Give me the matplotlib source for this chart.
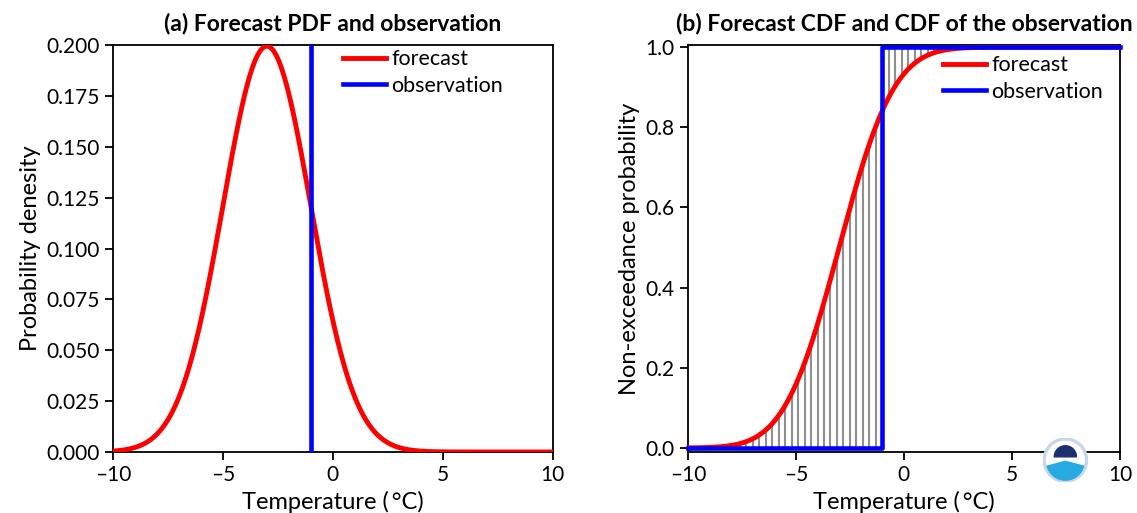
import math
import numpy as np
import matplotlib
matplotlib.use('Agg')
import matplotlib.pyplot as plt
from matplotlib.patches import Circle, Wedge

plt.rcParams['font.family'] = ['Lato', 'DejaVu Sans']

fc_mean = -3.0
fc_sd = 2.0
obs_value = -1.0
x_limits = [-10, 10]
pdf_ticks = [0.000, 0.025, 0.050, 0.075, 0.100, 0.125, 0.150, 0.175, 0.200]
cdf_ticks = [0.0, 0.2, 0.4, 0.6, 0.8, 1.0]
x_ticks = [-10, -5, 0, 5, 10]
hatch_step = 0.3

xs = np.linspace(x_limits[0], x_limits[1], 801)
pdf = np.exp(-0.5 * ((xs - fc_mean) / fc_sd) ** 2) / (fc_sd * math.sqrt(2 * math.pi))
erf = np.vectorize(math.erf)


def fc_cdf(x):
    return 0.5 * (1 + erf((x - fc_mean) / (fc_sd * math.sqrt(2))))


def obs_cdf(x):
    return np.where(x < obs_value, 0.0, 1.0)


fig = plt.figure(figsize=(11.37, 5.13), dpi=100)
ax1 = fig.add_axes([0.0994, 0.119, 0.3866, 0.793])
ax2 = fig.add_axes([0.605, 0.119, 0.380, 0.793])

# (a) PDF
ax1.plot(xs, pdf, color='red', lw=3.5, label='forecast', zorder=3)
ax1.axvline(obs_value, color='blue', lw=3.3, label='observation', zorder=3)
ax1.set_xlim(x_limits)
ax1.set_ylim(0, 0.2)
ax1.set_yticks(pdf_ticks)
ax1.set_yticklabels(['%.3f' % v for v in pdf_ticks])
ax1.set_ylabel('Probability denesity', fontsize=17)
ax1.set_title('(a) Forecast PDF and observation', fontsize=16.5, fontweight='bold', pad=11)
ax1.legend(loc='upper left', bbox_to_anchor=(0.523, 0.99), frameon=False, fontsize=15.5,
           handlelength=2.0, handletextpad=0.25, borderpad=0, borderaxespad=0, labelspacing=0.3)

# (b) CDF
hx = np.arange(x_limits[0] + 0.6, x_limits[1], hatch_step)
ax2.vlines(hx, np.minimum(fc_cdf(hx), obs_cdf(hx)), np.maximum(fc_cdf(hx), obs_cdf(hx)),
           color='#8f8f8f', lw=1.5, zorder=2)
ax2.plot(xs, fc_cdf(xs), color='red', lw=3.5, label='forecast', zorder=3)
sx = [x_limits[0], obs_value, obs_value, x_limits[1]]
sy = [0.0, 0.0, 1.0, 1.0]
ax2.plot(sx, sy, color='blue', lw=3.3, label='observation', zorder=4, clip_on=False)
ax2.set_xlim(x_limits)
ax2.set_ylim(-0.01, 1.005)
ax2.set_yticks(cdf_ticks)
ax2.set_yticklabels(['%.1f' % v for v in cdf_ticks])
ax2.set_ylabel('Non-exceedance probability', fontsize=17)
ax2.set_title('(b) Forecast CDF and CDF of the observation', fontsize=16.5, fontweight='bold', pad=11)
ax2.legend(loc='upper left', bbox_to_anchor=(0.590, 0.975), frameon=False, fontsize=15.5,
           handlelength=2.0, handletextpad=0.25, borderpad=0, borderaxespad=0, labelspacing=0.3)

for ax in (ax1, ax2):
    ax.set_xticks(x_ticks)
    ax.set_xticklabels([('%d' % v).replace('-', '\u2013') for v in x_ticks])
    ax.set_xlabel('Temperature (\u2009\u00b0C)', fontsize=17)
    ax.tick_params(direction='out', length=6, width=1.3, labelsize=15)
    for sp in ax.spines.values():
        sp.set_linewidth(1.3)

# small NOAA-style emblem
lx, ly, r = 0.937, 0.103, 0.0195
emb = fig.add_axes([lx - r, ly - r * 1137 / 513, 2 * r, 2 * r * 1137 / 513])
emb.set_xlim(-1, 1)
emb.set_ylim(-1, 1)
emb.set_aspect('equal')
emb.axis('off')
emb.add_patch(Circle((0, 0), 1.0, color='#c9d6ea'))
emb.add_patch(Circle((0, 0), 0.85, color='white'))
emb.add_patch(Wedge((0, -0.05), 0.85, 195, 345, color='#27a9e1'))
emb.add_patch(Wedge((0, 0.15), 0.5, 0, 180, color='#1c2f6e'))

fig.savefig('out.png', dpi=100)
